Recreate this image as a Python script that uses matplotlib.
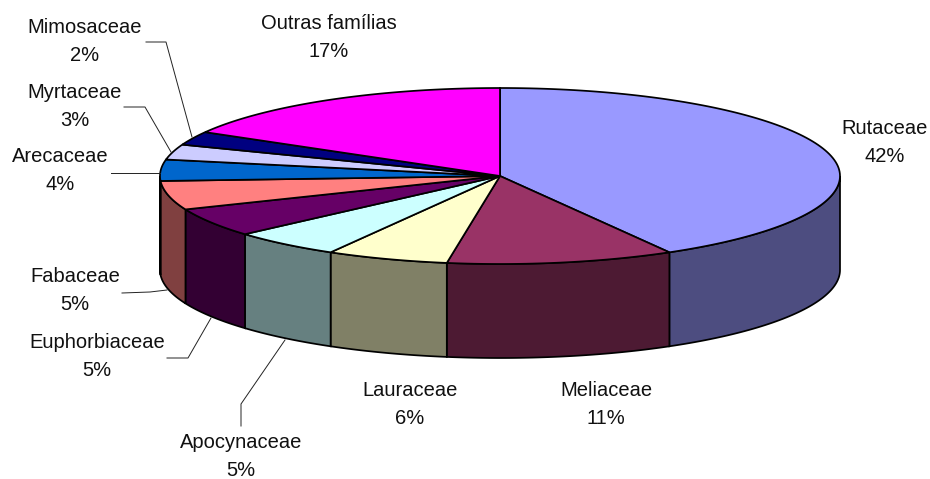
# plot.py
# Pizza 3D de famílias, desenhada com patches sobre eixos em pixels
import numpy as np
import matplotlib
matplotlib.use("Agg")
import matplotlib.pyplot as plt
from matplotlib.patches import Polygon

familias = ["Rutaceae", "Meliaceae", "Lauraceae", "Apocynaceae", "Euphorbiaceae",
            "Fabaceae", "Arecaceae", "Myrtaceae", "Mimosaceae", "Outras famílias"]
valores = [41.7, 10.8, 5.8, 5.2, 5.3, 5.3, 3.9, 2.8, 2.5, 16.7]
rotulos = ["42%", "11%", "6%", "5%", "5%", "5%", "4%", "3%", "2%", "17%"]
cores = ["#9999FF", "#993366", "#FFFFCC", "#CCFFFF", "#660066",
         "#FF8080", "#0066CC", "#CCCCFF", "#000080", "#FF00FF"]

CX, CY, RX, RY, ALTURA = 500, 176, 340, 88, 94

# posição dos rótulos (centro do texto) e linhas de chamada
pos_rotulos = [(885, 142), (606, 405), (410, 404), (241, 457), (97, 357),
               (75, 291), (60, 171), (75, 106), (85, 41), (329, 37)]
chamadas = {
    "Apocynaceae": [(241, 426), (241, 404), (285, 340)],
    "Euphorbiaceae": [(167, 358), (188, 358), (211, 318)],
    "Fabaceae": [(122, 293), (150, 292), (167, 290)],
    "Arecaceae": [(111, 173), (160, 173)],
    "Myrtaceae": [(124, 107), (145, 107), (171, 152)],
    "Mimosaceae": [(146, 42), (166, 42), (192, 137)],
}


def ponto(frac):
    # fração acumulada -> ponto na elipse, sentido horário a partir do topo
    ang = 2 * np.pi * np.asarray(frac)
    return CX + RX * np.sin(ang), CY + RY * -np.cos(ang)


def escurece(cor):
    return tuple(c * 0.5 for c in matplotlib.colors.to_rgb(cor))


fig = plt.figure(figsize=(9.3, 4.79), dpi=100)
ax = fig.add_axes([0, 0, 1, 1])
ax.set_xlim(0, 930)
ax.set_ylim(479, 0)
ax.axis("off")

total = sum(valores)
acum = np.concatenate([[0], np.cumsum(valores)]) / total

# lateral: só a parte frontal da elipse (frações entre 0.25 e 0.75)
for i, cor in enumerate(cores):
    ini, fim = max(acum[i], 0.25), min(acum[i + 1], 0.75)
    if fim <= ini:
        continue
    t = np.linspace(ini, fim, 60)
    x, y = ponto(t)
    xy = np.r_[np.c_[x, y], np.c_[x[::-1], y[::-1] + ALTURA]]
    ax.add_patch(Polygon(xy, closed=True, fc=escurece(cor), ec="black", lw=1.25, zorder=2))

# topo
for i, cor in enumerate(cores):
    t = np.linspace(acum[i], acum[i + 1], 120)
    x, y = ponto(t)
    xy = np.r_[[[CX, CY]], np.c_[x, y]]
    ax.add_patch(Polygon(xy, closed=True, fc=cor, ec="black", lw=1.25, zorder=3))

for nome, valor, (px, py) in zip(familias, rotulos, pos_rotulos):
    ax.text(px, py, f"{nome}\n{valor}", ha="center", va="center", fontsize=14.5,
            family="Liberation Sans", linespacing=1.6, color="#111111", zorder=5)

for nome, pts in chamadas.items():
    xs, ys = zip(*pts)
    ax.plot(xs, ys, color="#222222", lw=0.7, zorder=4)

fig.savefig("out.png", dpi=100, facecolor="white")
